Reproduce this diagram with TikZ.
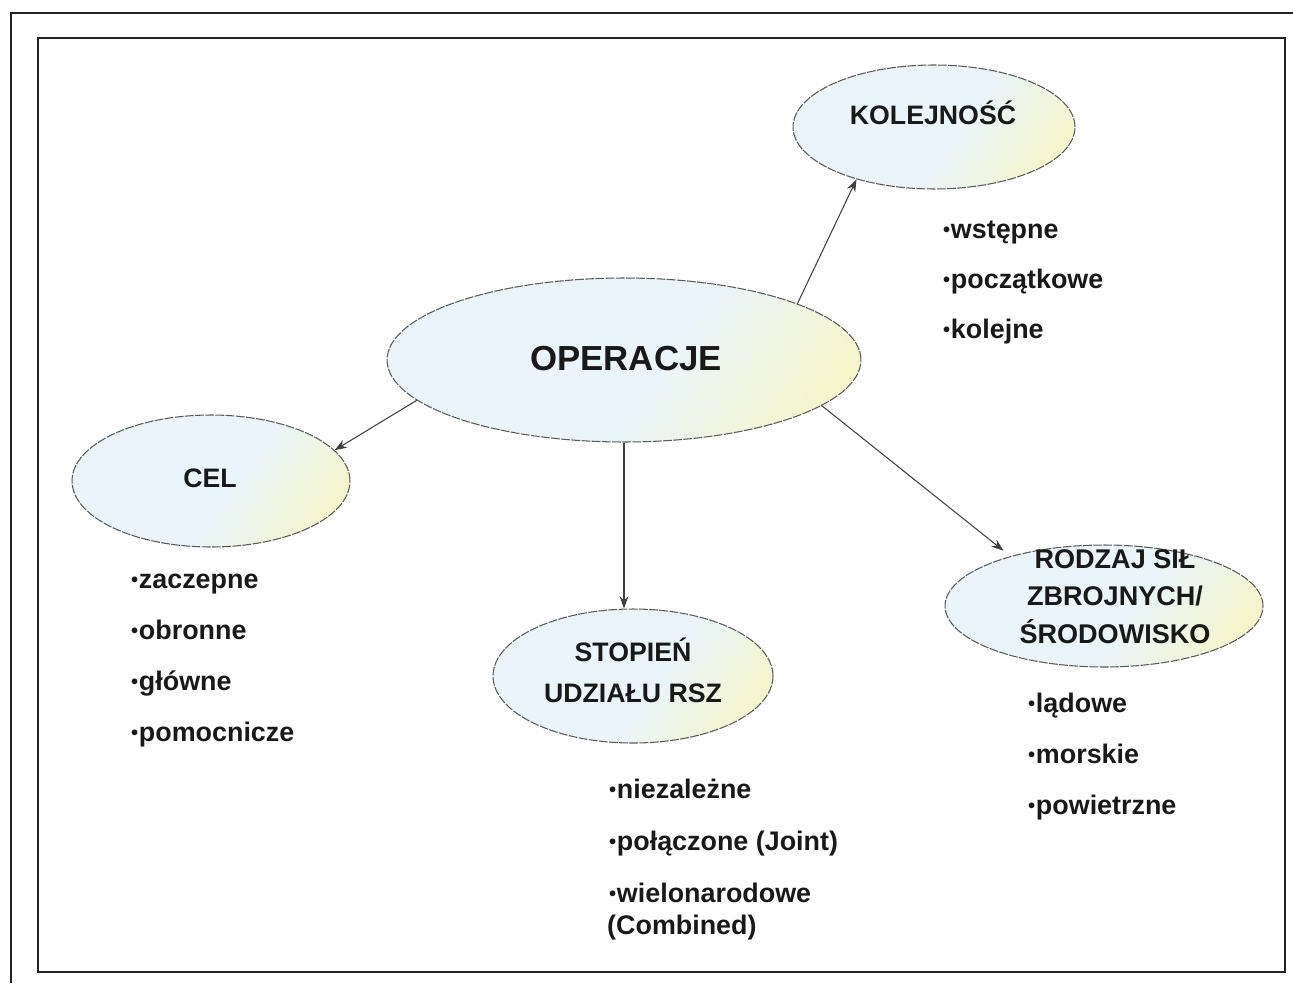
\documentclass[tikz,border=0pt]{standalone}
\usepackage{fontspec}
\setmainfont{Liberation Sans}
\usetikzlibrary{arrows.meta,shapes.geometric}
\definecolor{ellblue}{RGB}{233,245,250}
\definecolor{ellyellow}{RGB}{250,245,185}
\definecolor{framegray}{RGB}{35,35,35}
\pgfdeclarehorizontalshading{ellshade}{100bp}{color(0bp)=(ellblue); color(55bp)=(ellblue); color(85bp)=(ellyellow); color(100bp)=(ellyellow)}
\newcommand{\headfont}{\bfseries\fontsize{15.2}{22.8}\selectfont}
\newcommand{\itemfont}{\bfseries\fontsize{15.3}{29}\selectfont}
\newcommand{\blt}{\raisebox{0.6pt}{\scalebox{0.75}{\textbullet}}\kern0.4pt}

\begin{document}
\begin{tikzpicture}[x=0.02cm,y=-0.02cm,
  topic/.style={ellipse, draw=black!65, dash pattern=on 5pt off 0.8pt, line width=0.6pt,
    shading=ellshade, shading angle=-35, inner sep=0pt},
  head/.style={font=\headfont, align=center, anchor=base, text=black!90},
  item/.style={font=\itemfont, anchor=base west, text=black!90},
  link/.style={draw=black!75, line width=0.6pt, -{Stealth[length=7pt,width=5pt]}},
  frame/.style={draw=framegray}]
  \useasboundingbox (0,0) rectangle (1293,983);

  %%%%% frames %%%%%
  \draw[frame, line width=1pt] (11,983) -- (11,13) -- (1293,13);
  \draw[frame, line width=1.4pt] (38,38) rectangle (1285,972);

  %%%%% ellipses %%%%%
  \node[topic, minimum width=9.48cm, minimum height=3.28cm] (op) at (624,360) {};
  \node[topic, minimum width=5.64cm, minimum height=2.48cm] (kol) at (934,127) {};
  \node[topic, minimum width=5.56cm, minimum height=2.64cm] (cel) at (211,481) {};
  \node[topic, minimum width=5.6cm, minimum height=2.68cm] (st) at (633,676) {};
  \node[topic, minimum width=6.36cm, minimum height=2.44cm] (rod) at (1104,606) {};

  %%%%% headings %%%%%
  \node[head, font=\bfseries\fontsize{19.8}{24}\selectfont] (opt) at (626,370) {OPERACJE};
  \node[head] (kolt) at (933,125) {KOLEJNOŚĆ};
  \node[head] (celt) at (210,487) {CEL};
  \node[head] (stt) at (633,702) {STOPIEŃ\\UDZIAŁU RSZ};
  \node[head, font=\bfseries\fontsize{15.4}{21.3}\selectfont] (rodt) at (1115,643) {RODZAJ SIŁ\\ZBROJNYCH/\\ŚRODOWISKO};

  %%%%% connectors %%%%%
  \draw[link] (op.18.4) -- (kol.214);
  \draw[link] (op.191.4) -- (cel.14);
  \draw[link] (op.south) -- (op.south |- st.north);
  \draw[link, shorten >=5pt] (op.-13.9) -- (rod.152);

  %%%%% lists %%%%%
  \foreach \t [count=\i from 0] in {wstępne,początkowe,kolejne}
    \node[item] (kol\i) at (937,238+50*\i) {\blt\t};
  \foreach \t [count=\i from 0] in {zaczepne,obronne,główne,pomocnicze}
    \node[item] (cel\i) at (125,588+51*\i) {\blt\t};
  \foreach \t [count=\i from 0] in {niezależne,połączone (Joint),wielonarodowe}
    \node[item] (st\i) at (603,798+52*\i) {\blt\t};
  \node[item] (st3) at (601,934) {(Combined)};
  \foreach \t [count=\i from 0] in {lądowe,morskie,powietrzne}
    \node[item] (rod\i) at (1022,712+51*\i) {\blt\t};
\end{tikzpicture}
\end{document}
